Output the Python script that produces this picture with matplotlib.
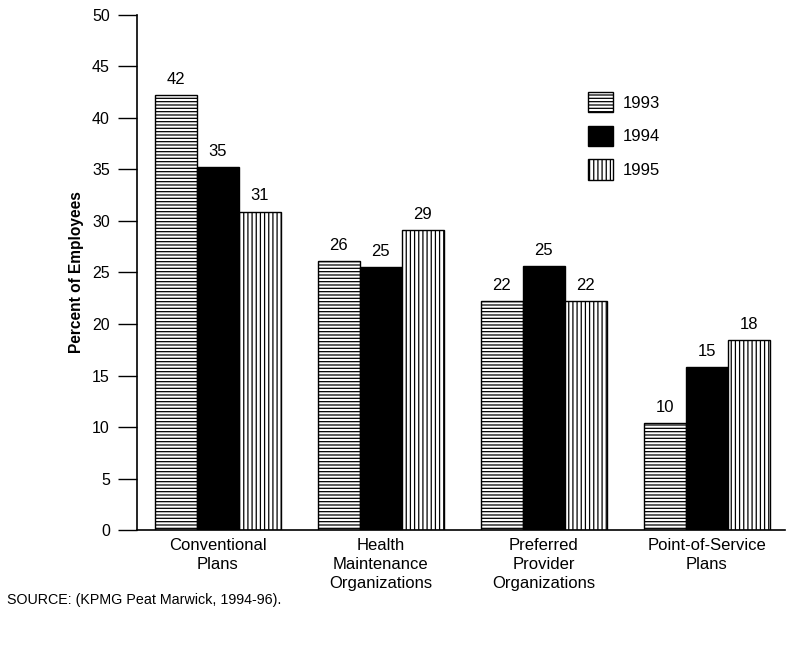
import numpy as np
import matplotlib
matplotlib.use("Agg")
import matplotlib.pyplot as plt
import matplotlib.patches as mpatches

plt.rcParams['font.family'] = ['Liberation Sans', 'DejaVu Sans']
plt.rcParams['hatch.linewidth'] = 0.9

# ── Дані ────────────────────────────────────────────────────────────────
categories = ["Conventional\nPlans",
              "Health\nMaintenance\nOrganizations",
              "Preferred\nProvider\nOrganizations",
              "Point-of-Service\nPlans"]
years = ["1993", "1994", "1995"]

vals_1993 = [42.2, 26.1, 22.2, 10.4]
vals_1994 = [35.2, 25.5, 25.6, 15.8]
vals_1995 = [30.9, 29.1, 22.2, 18.4]

labels_1993 = ["42", "26", "22", "10"]
labels_1994 = ["35", "25", "25", "15"]
labels_1995 = ["31", "29", "22", "18"]

yticks = [0, 5, 10, 15, 20, 25, 30, 35, 40, 45, 50]

# ── Стиль серій ─────────────────────────────────────────────────────────
styles = [dict(facecolor='white', hatch='-----'),
          dict(facecolor='black', hatch=None),
          dict(facecolor='white', hatch='||||')]

fig = plt.figure(figsize=(7.93, 6.48), dpi=100)
ax = fig.add_axes([0.1728, 0.182, 0.817, 0.795])

x = np.arange(len(categories))
width = 0.258
series = [(vals_1993, labels_1993), (vals_1994, labels_1994), (vals_1995, labels_1995)]

for i, ((vals, labs), st) in enumerate(zip(series, styles)):
    pos = x + (i - 1) * width
    bars = ax.bar(pos, vals, width, edgecolor='black', linewidth=1.0,
                  label=years[i], **st)
    for b, t in zip(bars, labs):
        ax.text(b.get_x() + b.get_width() / 2, b.get_height() + 0.8, t,
                ha='center', va='bottom', fontsize=12)

ax.set_ylim(0, 50)
ax.set_xlim(-0.497, 3.48)
ax.set_yticks(yticks)
ax.tick_params(axis='y', direction='out', length=13.5, width=1, labelsize=11.5, pad=6)
ax.set_xticks(x)
ax.set_xticklabels(categories, fontsize=12, linespacing=1.3)
ax.tick_params(axis='x', length=0, pad=6)
for s in ['top', 'right']:
    ax.spines[s].set_visible(False)
ax.spines['left'].set_linewidth(1.2)
ax.spines['bottom'].set_linewidth(1.2)

ax.set_ylabel("Percent of Employees", fontsize=11.2, fontweight='bold', labelpad=6)

handles = [mpatches.Patch(edgecolor='black', linewidth=1.0, **st) for st in styles]
ax.legend(handles, years, loc='upper left', bbox_to_anchor=(0.742, 0.858),
          bbox_transform=fig.transFigure, frameon=False, fontsize=12,
          handlelength=1.45, handleheight=1.5, handletextpad=0.6,
          labelspacing=0.8, borderpad=0, borderaxespad=0)

fig.text(0.009, 0.074, "SOURCE: (KPMG Peat Marwick, 1994-96).", fontsize=10.3,
         va='center')

fig.savefig("out.png", dpi=100)
